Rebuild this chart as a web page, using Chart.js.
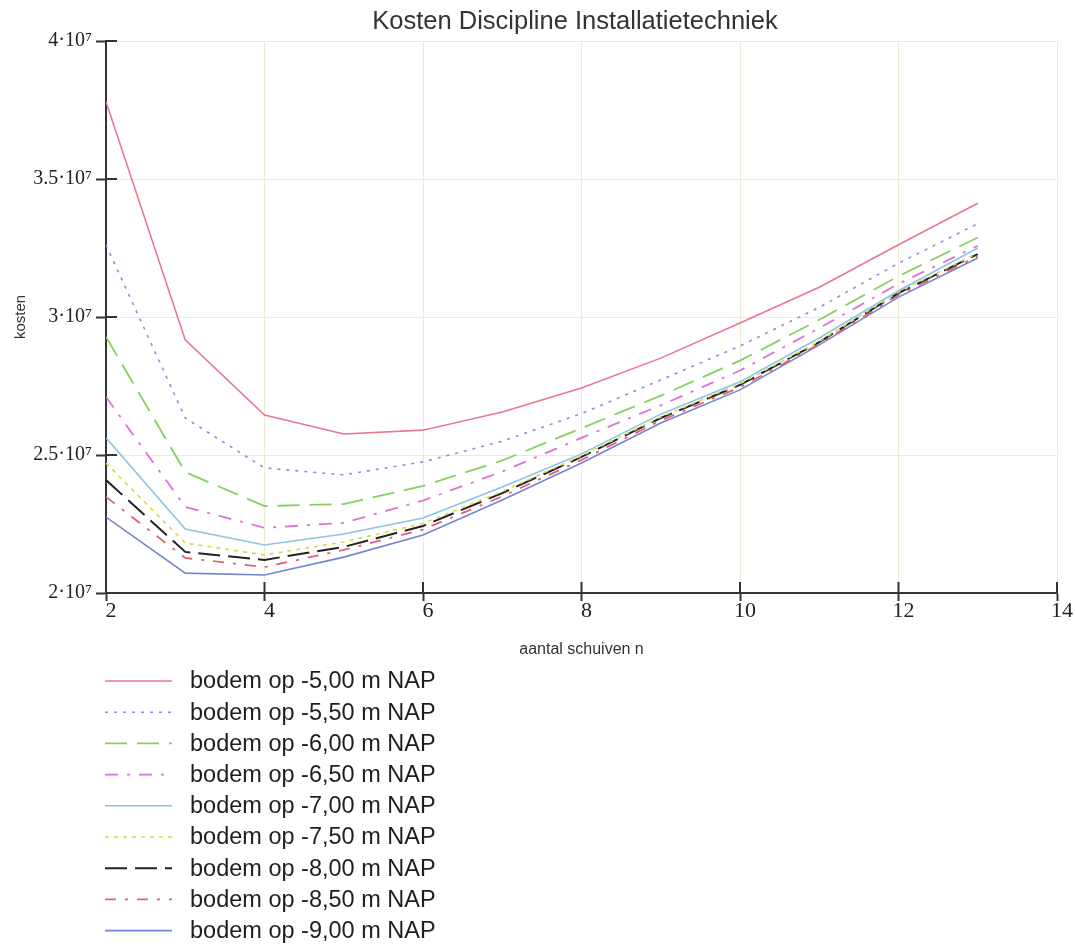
<!DOCTYPE html>
<html>
<head>
<meta charset="utf-8">
<script src="https://cdn.jsdelivr.net/npm/chart.js@4.4.1/dist/chart.umd.min.js"></script>
<style>
  html, body { margin: 0; padding: 0; background: #fff; }
  #wrap { width: 1075px; height: 944px; }
</style>
</head>
<body>
<div id="wrap"><canvas id="grafiek" width="1075" height="944"></canvas></div>
<script>
// aantal schuiven n
const schuiven = [2, 3, 4, 5, 6, 7, 8, 9, 10, 11, 12, 13];

// kosten per bodemniveau (x 1e7)
const bodem500 = [3.78, 2.917, 2.645, 2.576, 2.59, 2.656, 2.743, 2.851, 2.978, 3.108, 3.262, 3.412];
const bodem550 = [3.261, 2.634, 2.453, 2.428, 2.475, 2.55, 2.65, 2.772, 2.895, 3.035, 3.195, 3.338];
const bodem600 = [2.928, 2.438, 2.315, 2.322, 2.388, 2.48, 2.597, 2.715, 2.842, 2.99, 3.148, 3.288];
const bodem650 = [2.71, 2.312, 2.236, 2.254, 2.335, 2.44, 2.562, 2.68, 2.806, 2.96, 3.12, 3.258];
const bodem700 = [2.562, 2.232, 2.174, 2.214, 2.272, 2.384, 2.504, 2.648, 2.765, 2.924, 3.095, 3.25];
const bodem750 = [2.471, 2.181, 2.138, 2.185, 2.252, 2.368, 2.497, 2.638, 2.758, 2.912, 3.09, 3.232];
const bodem800 = [2.409, 2.149, 2.12, 2.167, 2.243, 2.362, 2.493, 2.634, 2.754, 2.909, 3.087, 3.228];
const bodem850 = [2.348, 2.127, 2.094, 2.156, 2.23, 2.35, 2.482, 2.625, 2.745, 2.902, 3.08, 3.22];
const bodem900 = [2.275, 2.072, 2.065, 2.13, 2.21, 2.337, 2.471, 2.616, 2.736, 2.899, 3.072, 3.214];

const labels = [
  "bodem op -5,00 m NAP", "bodem op -5,50 m NAP", "bodem op -6,00 m NAP",
  "bodem op -6,50 m NAP", "bodem op -7,00 m NAP", "bodem op -7,50 m NAP",
  "bodem op -8,00 m NAP", "bodem op -8,50 m NAP", "bodem op -9,00 m NAP"
];
const reeksen = [bodem500, bodem550, bodem600, bodem650, bodem700, bodem750, bodem800, bodem850, bodem900];
const yTicks = [2e7, 2.5e7, 3e7, 3.5e7, 4e7];
const xTicks = [2, 4, 6, 8, 10, 12, 14];
const titel = "Kosten Discipline Installatietechniek";

// lijnstijlen
const stijlen = [
  { kleur: "#e8788a", dash: [], dikte: 1.6 },
  { kleur: "#8c8ce0", dash: [3, 6], dikte: 1.6 },
  { kleur: "#86d060", dash: [22, 10], dikte: 1.8 },
  { kleur: "#e070d8", dash: [13, 9, 3, 9], dikte: 1.8 },
  { kleur: "#8cc4e4", dash: [], dikte: 1.6 },
  { kleur: "#d8d848", dash: [4, 5], dikte: 1.6 },
  { kleur: "#222222", dash: [22, 8], dikte: 2 },
  { kleur: "#e46078", dash: [11, 9, 3, 9], dikte: 1.8 },
  { kleur: "#7484d4", dash: [], dikte: 1.6 }
];

const datasets = reeksen.map((r, i) => ({
  label: labels[i],
  data: r.map((v, j) => ({ x: schuiven[j], y: v * 1e7 })),
  borderColor: stijlen[i].kleur,
  borderDash: stijlen[i].dash,
  borderWidth: stijlen[i].dikte,
  pointRadius: 0,
  fill: false,
  tension: 0
}));

function macht(v) {
  return (v / 1e7) + "·10⁷";
}

// titel, binnenwaartse tickstreepjes en legenda op het canvas
const extra = {
  id: "extra",
  afterDraw(chart) {
    const ctx = chart.ctx;
    const a = chart.chartArea;
    const xs = chart.scales.x, ys = chart.scales.y;
    ctx.save();
    ctx.fillStyle = "#333";
    ctx.font = "25.5px 'Liberation Sans', Arial, sans-serif";
    ctx.textAlign = "center";
    ctx.textBaseline = "middle";
    ctx.fillText(titel, 575, 22);

    ctx.strokeStyle = "#333";
    ctx.lineWidth = 2;
    yTicks.forEach(t => {
      const py = ys.getPixelForValue(t);
      ctx.beginPath(); ctx.moveTo(a.left, py); ctx.lineTo(a.left + 11, py); ctx.stroke();
    });
    xTicks.forEach(t => {
      const px = xs.getPixelForValue(t);
      ctx.beginPath(); ctx.moveTo(px, a.bottom); ctx.lineTo(px, a.bottom - 11); ctx.stroke();
    });
    // legenda
    ctx.font = "23.5px 'Liberation Sans', Arial, sans-serif";
    ctx.textAlign = "left";
    ctx.fillStyle = "#1e1e1e";
    chart.data.datasets.forEach((d, i) => {
      const y = 681 + i * 31.2;
      ctx.strokeStyle = d.borderColor;
      ctx.lineWidth = d.borderWidth;
      ctx.setLineDash(d.borderDash);
      ctx.beginPath(); ctx.moveTo(105, y); ctx.lineTo(172, y); ctx.stroke();
      ctx.setLineDash([]);
      ctx.fillText(d.label, 190, y + 1);
    });
    ctx.restore();
  }
};

new Chart(document.getElementById("grafiek"), {
  type: "line",
  data: { datasets },
  options: {
    responsive: false,
    animation: false,
    layout: { padding: { left: 0, right: 18, top: 41, bottom: 281 } },
    plugins: {
      legend: { display: false },
      tooltip: { enabled: false },
      title: { display: false }
    },
    scales: {
      x: {
        type: "linear",
        min: 2, max: 14,
        afterBuildTicks: s => { s.ticks = xTicks.map(v => ({ value: v })); },
        afterFit: s => { s.height = 70; },
        border: { color: "#333", width: 2 },
        grid: { color: "#ebebd6", borderDash: [2, 3], tickColor: "#333", tickLength: 8, tickWidth: 2 },
        ticks: {
          color: "#222", padding: -3, labelOffset: 5,
          font: { family: "'Liberation Serif', 'Times New Roman', serif", size: 22 }
        },
        title: {
          display: true, text: "aantal schuiven n", color: "#333",
          font: { family: "'Liberation Sans', Arial, sans-serif", size: 16 },
          padding: { top: 8 }
        }
      },
      y: {
        min: 2e7, max: 4e7,
        afterBuildTicks: s => { s.ticks = yTicks.map(v => ({ value: v })); },
        afterFit: s => { s.width = 106; },
        border: { color: "#333", width: 2 },
        grid: { color: "#ebebd6", borderDash: [2, 3], tickColor: "#333", tickLength: 10, tickWidth: 2 },
        ticks: {
          color: "#222", padding: 4,
          callback: v => macht(v),
          font: { family: "'Liberation Serif', 'Times New Roman', serif", size: 20 }
        },
        title: {
          display: true, text: "kosten", color: "#333",
          font: { family: "'Liberation Sans', Arial, sans-serif", size: 15 },
          padding: { top: 12, bottom: 0 }
        }
      }
    }
  },
  plugins: [extra]
});
</script>
</body>
</html>
